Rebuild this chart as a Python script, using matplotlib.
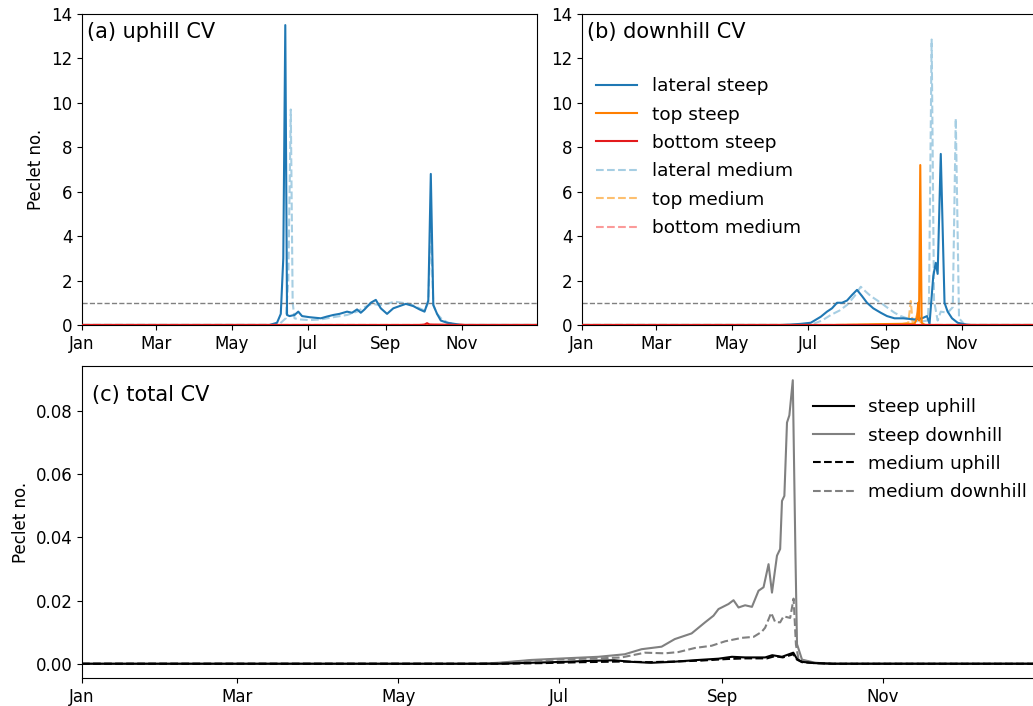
import numpy as np
import matplotlib
matplotlib.use("Agg")
import matplotlib.pyplot as plt
import matplotlib.dates as mdates

# Day-of-year breakpoints (0 = 1 Jan) and Peclet numbers for each flow component
year_start = np.datetime64("2019-01-01")
year_end_day = 364

# (a) uphill CV
up_lat_steep_day = [0, 150, 156, 159, 161, 162.6, 164, 166, 170, 173, 176, 182, 191, 196, 201, 206,
                    212, 216, 220, 223, 226, 231, 235, 239, 244, 249, 254, 259, 265, 270, 274, 277,
                    279, 281, 284, 287, 292, 298, 303, 364]
up_lat_steep_val = [0, 0, 0.1, 0.5, 3.0, 13.5, 0.45, 0.4, 0.45, 0.6, 0.4, 0.35, 0.3, 0.38, 0.45, 0.5,
                    0.6, 0.55, 0.7, 0.55, 0.7, 1.0, 1.13, 0.75, 0.5, 0.75, 0.85, 0.95, 0.85, 0.7, 0.6, 1.1,
                    6.8, 0.9, 0.5, 0.2, 0.1, 0.05, 0, 0]

up_lat_med_day = [0, 152, 158, 163, 165, 167, 168.5, 170, 174, 182, 191, 201, 212, 220, 226, 232,
                  238, 244, 250, 256, 262, 268, 274, 277, 279, 281, 284, 288, 293, 300, 306, 364]
up_lat_med_val = [0, 0, 0.05, 0.3, 2.0, 9.7, 1.0, 0.3, 0.25, 0.22, 0.25, 0.35, 0.45, 0.6, 0.8, 0.95,
                  0.9, 0.95, 1.05, 1.0, 0.95, 0.8, 0.65, 1.0, 4.6, 0.9, 0.5, 0.25, 0.1, 0.03, 0, 0]

up_bot_steep_day = [0, 270, 274, 276, 278, 290, 300, 364]
up_bot_steep_val = [0, 0, 0.02, 0.08, 0.02, 0.01, 0, 0]

up_bot_med_day = [0, 300, 303, 306, 364]
up_bot_med_val = [0, 0, 0.03, 0, 0]

up_top_steep_day = [0, 364]
up_top_steep_val = [0, 0]
up_top_med_day = [0, 364]
up_top_med_val = [0, 0]

# (b) downhill CV
dn_lat_steep_day = [0, 160, 167, 175, 183, 191, 196, 200, 204, 208, 212, 216, 220, 224, 228, 233,
                    239, 244, 250, 257, 266, 272, 276, 278, 281, 283, 284.5, 287, 290, 292.5, 296,
                    300.5, 306, 311, 364]
dn_lat_steep_val = [0, 0, 0.02, 0.05, 0.1, 0.37, 0.6, 0.75, 1.0, 1.0, 1.1, 1.35, 1.58, 1.3, 1.0, 0.75,
                    0.55, 0.4, 0.3, 0.3, 0.25, 0.3, 0.4, 0.05, 2.2, 2.8, 2.3, 7.7, 1.0, 0.6, 0.3,
                    0.1, 0.03, 0, 0]

dn_lat_med_day = [0, 170, 185, 192, 199, 206, 212, 218, 223, 227, 231, 235, 239, 245, 250, 255,
                  260, 266, 271, 276.5, 277.6, 279.7, 281.6, 284.5, 287, 292.5, 296.6, 299, 301.6,
                  305.6, 310, 364]
dn_lat_med_val = [0, 0, 0.05, 0.2, 0.45, 0.65, 0.9, 1.3, 1.72, 1.5, 1.3, 1.15, 1.0, 0.75, 0.55, 0.4,
                  0.3, 0.2, 0.15, 0.2, 1.2, 12.85, 1.1, 0.2, 0.6, 0.55, 0.8, 9.3, 0.3,
                  0.05, 0, 0]

dn_top_steep_day = [0, 200, 220, 240, 255, 266, 268, 269, 269.6, 270.6, 271.7, 274, 364]
dn_top_steep_val = [0, 0, 0.02, 0.04, 0.05, 0.05, 0.3, 1.0, 0.2, 7.2, 0.1, 0, 0]

dn_top_med_day = [0, 230, 255, 261, 263, 264.5, 267, 269, 271, 275, 364]
dn_top_med_val = [0, 0, 0.03, 0.1, 1.08, 0.1, 0.3, 0.6, 0.1, 0, 0]

dn_bot_steep_day = [0, 364]
dn_bot_steep_val = [0, 0]
dn_bot_med_day = [0, 364]
dn_bot_med_val = [0, 0]

# (c) total CV
tot_steep_dn_day = [0, 150, 158, 170.5, 183, 196, 206, 212.4, 220, 225, 231.4, 236.5, 239.7, 241.6,
                    245.4, 247.3, 249.2, 251.7, 254.3, 256.8, 258.7, 260.6, 261.9, 263.8, 265, 265.7,
                    266.6, 267.6, 268.5, 269.8, 270.8, 271.4, 273.3, 278.4, 285, 364]
tot_steep_dn_val = [0, 0, 0.0003, 0.0012, 0.0017, 0.0022, 0.003, 0.0046, 0.0054, 0.0078, 0.0096, 0.0131,
                    0.0152, 0.0173, 0.0189, 0.0201, 0.0178, 0.0185, 0.018, 0.0231, 0.0242, 0.0315,
                    0.0225, 0.0342, 0.0363, 0.0515, 0.0531, 0.0763, 0.0786, 0.0897, 0.035, 0.0062,
                    0.0013, 0.0003, 0, 0]

tot_med_dn_day = [0, 150, 160, 170.5, 183, 196, 204.8, 213.7, 221.3, 226.4, 232.7, 239, 244.1, 250.5,
                  254.9, 258, 259.3, 261.6, 263.1, 265, 266.3, 268.8, 270.1, 271, 272, 278, 285, 364]
tot_med_dn_val = [0, 0, 0.0003, 0.001, 0.0014, 0.0017, 0.002, 0.0035, 0.0033, 0.0037, 0.005, 0.0057,
                  0.0071, 0.0082, 0.0085, 0.0101, 0.0114, 0.0161, 0.0132, 0.0131, 0.015, 0.0145,
                  0.0206, 0.006, 0.0013, 0.0003, 0, 0]

tot_steep_up_day = [0, 158, 170, 183, 192, 202, 208.6, 216, 224, 234, 241.6, 246.7, 251.7, 259.3, 262,
                    265.7, 270, 271.4, 273.3, 278, 285, 364]
tot_steep_up_val = [0, 0, 0.0003, 0.0006, 0.0009, 0.0011, 0.0006, 0.0003, 0.0006, 0.0012, 0.0016,
                    0.0022, 0.002, 0.002, 0.0027, 0.0022, 0.0035, 0.0015, 0.0006, 0.0002, 0, 0]

tot_med_up_day = [0, 160, 175, 190, 205, 215, 225, 235, 245, 252, 260, 263, 266, 270, 271.4, 273.3,
                  278, 285, 364]
tot_med_up_val = [0, 0, 0.0002, 0.0005, 0.0007, 0.0005, 0.0007, 0.001, 0.0015, 0.0017, 0.0017, 0.0024,
                  0.002, 0.003, 0.0013, 0.0005, 0.0002, 0, 0]


def to_dates(days):
    # fractional days -> datetime64 so the month axis works
    minutes = np.round(np.asarray(days, dtype=float) * 24 * 60).astype("timedelta64[m]")
    return year_start + minutes


steep_cols = ["#1f78b4", "#ff7f00", "#e31a1c"]
med_cols = ["#a6cee3", "#fdbf6f", "#fb9a99"]

plt.rcParams["font.size"] = 12

fig = plt.figure(figsize=(10.33, 7.06), dpi=100)
ax_a = fig.add_axes([0.0794, 0.5397, 0.4405, 0.4405])
ax_b = fig.add_axes([0.5634, 0.5397, 0.4405, 0.4405])
ax_c = fig.add_axes([0.0794, 0.0397, 0.9283, 0.4419])

panels = [
    (ax_a, "(a) uphill CV",
     [(up_lat_steep_day, up_lat_steep_val), (up_top_steep_day, up_top_steep_val), (up_bot_steep_day, up_bot_steep_val)],
     [(up_lat_med_day, up_lat_med_val), (up_top_med_day, up_top_med_val), (up_bot_med_day, up_bot_med_val)]),
    (ax_b, "(b) downhill CV",
     [(dn_lat_steep_day, dn_lat_steep_val), (dn_top_steep_day, dn_top_steep_val), (dn_bot_steep_day, dn_bot_steep_val)],
     [(dn_lat_med_day, dn_lat_med_val), (dn_top_med_day, dn_top_med_val), (dn_bot_med_day, dn_bot_med_val)]),
]
names = ["lateral", "top", "bottom"]

for ax, title, steep, med in panels:
    for (d, v), c, n in zip(steep, steep_cols, names):
        ax.plot(to_dates(d), v, color=c, lw=1.5, label=f"{n} steep", zorder=3)
    for (d, v), c, n in zip(med, med_cols, names):
        ax.plot(to_dates(d), v, color=c, lw=1.5, ls="--", label=f"{n} medium", zorder=2)
    ax.axhline(1, color="grey", ls="--", lw=1)
    ax.set_ylim(0, 14)
    ax.set_yticks(np.arange(0, 15, 2))
    ax.text(0.012, 0.975, title, transform=ax.transAxes, fontsize=15, va="top", ha="left")

ax_a.set_ylabel("Peclet no.")
ax_b.legend(loc="upper left", bbox_to_anchor=(-0.005, 0.85), frameon=False, fontsize=13.3,
            handlelength=2.2, labelspacing=0.56)

ax_c.plot(to_dates(tot_steep_up_day), tot_steep_up_val, color="black", lw=1.5, label="steep uphill", zorder=4)
ax_c.plot(to_dates(tot_steep_dn_day), tot_steep_dn_val, color="grey", lw=1.5, label="steep downhill", zorder=2)
ax_c.plot(to_dates(tot_med_up_day), tot_med_up_val, color="black", lw=1.5, ls="--", label="medium uphill", zorder=3)
ax_c.plot(to_dates(tot_med_dn_day), tot_med_dn_val, color="grey", lw=1.5, ls="--", label="medium downhill", zorder=2)
ax_c.set_ylim(-0.0045, 0.0942)
ax_c.set_ylabel("Peclet no.")
ax_c.text(0.01, 0.94, "(c) total CV", transform=ax_c.transAxes, fontsize=15, va="top", ha="left")
ax_c.legend(loc="upper left", bbox_to_anchor=(0.745, 0.95), frameon=False, fontsize=13.3,
            handlelength=2.2, labelspacing=0.56)

for ax in (ax_a, ax_b, ax_c):
    ax.set_xlim(to_dates([0])[0], to_dates([year_end_day])[0])
    ax.xaxis.set_major_locator(mdates.MonthLocator(bymonth=[1, 3, 5, 7, 9, 11]))
    ax.xaxis.set_major_formatter(mdates.DateFormatter("%b"))

fig.savefig("out.png", dpi=100)
